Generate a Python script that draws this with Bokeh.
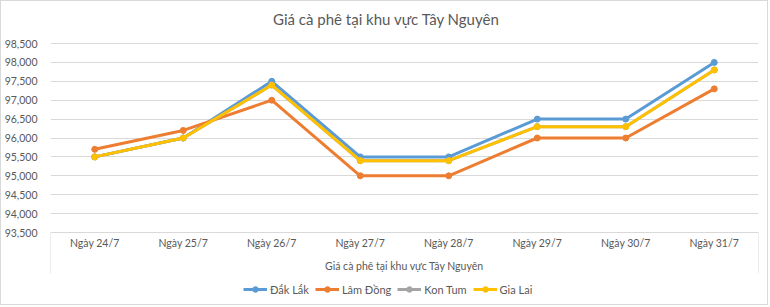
from bokeh.plotting import figure
from bokeh.models import (FactorRange, Range1d, FixedTicker, NumeralTickFormatter,
                          Legend, LegendItem, Label)
from bokeh.embed import file_html
from bokeh.resources import INLINE

categories = ["Ngày 24/7", "Ngày 25/7", "Ngày 26/7", "Ngày 27/7",
              "Ngày 28/7", "Ngày 29/7", "Ngày 30/7", "Ngày 31/7"]
dak_lak = [95500, 96000, 97500, 95500, 95500, 96500, 96500, 98000]
lam_dong = [95700, 96200, 97000, 95000, 95000, 96000, 96000, 97300]
kon_tum = [95500, 96000, 97400, 95400, 95400, 96300, 96300, 97800]
gia_lai = [95500, 96000, 97400, 95400, 95400, 96300, 96300, 97800]
y_ticks = [93500, 94000, 94500, 95000, 95500, 96000, 96500, 97000, 97500, 98000, 98500]

series = [("Đắk Lắk", dak_lak, "#5B9BD5"),
          ("Lâm Đồng", lam_dong, "#ED7D31"),
          ("Kon Tum", kon_tum, "#A5A5A5"),
          ("Gia Lai", gia_lai, "#FFC000")]

FONT = "Lato"
TXT = "#595959"

W, H = 768, 305
GRID_TOP = 42      # canvas px of the top gridline
GRID_H = 189       # px between top and bottom gridline
BOX_H = 41         # height of the category box below the bottom gridline
FRAME_BOTTOM = H

y_top = y_ticks[-1]
y_bot = y_ticks[0]
px_per_unit = GRID_H / (y_top - y_bot)
y_end = y_top + GRID_TOP / px_per_unit
y_start = y_bot - (FRAME_BOTTOM - GRID_TOP - GRID_H) / px_per_unit
y_box = y_bot - BOX_H / px_per_unit

p = figure(width=W, height=H, output_backend="svg", toolbar_location=None,
           x_range=FactorRange(*categories), y_range=Range1d(y_start, y_end),
           min_border_left=47, min_border_right=11, min_border_top=0,
           min_border_bottom=0, styles={"border": "1px solid #D9D9D9"})
p.outline_line_color = None
p.background_fill_color = "white"
p.border_fill_color = "white"

title = Label(text="Giá cà phê tại khu vực Tây Nguyên", x=336, y=FRAME_BOTTOM - 17,
              x_units="screen", y_units="screen", text_align="center",
              text_baseline="middle", text_font=FONT, text_font_size="15px",
              text_color=TXT)
p.add_layout(title)

p.yaxis.ticker = FixedTicker(ticks=y_ticks)
p.yaxis.formatter = NumeralTickFormatter(format="0,0")
p.yaxis.axis_line_color = None
p.yaxis.major_tick_line_color = None
p.yaxis.minor_tick_line_color = None
p.yaxis.major_label_standoff = 7
p.yaxis.major_label_text_font = FONT
p.yaxis.major_label_text_font_size = "10.5px"
p.yaxis.major_label_text_color = TXT

p.ygrid.ticker = FixedTicker(ticks=y_ticks)
p.ygrid.grid_line_color = "#D9D9D9"
p.ygrid.grid_line_width = 1
p.xgrid.grid_line_color = None

p.xaxis.axis_line_color = None
p.xaxis.major_tick_line_color = None
p.xaxis.major_tick_out = 0
p.xaxis.major_tick_in = 0
p.xaxis.major_label_standoff = -(FRAME_BOTTOM - 235)
p.xaxis.major_label_text_font = FONT
p.xaxis.major_label_text_font_size = "10.5px"
p.xaxis.major_label_text_color = TXT
p.xaxis.axis_label = "Giá cà phê tại khu vực Tây Nguyên"
p.xaxis.axis_label_standoff = 8
p.xaxis.axis_label_text_font = FONT
p.xaxis.axis_label_text_font_size = "10.5px"
p.xaxis.axis_label_text_font_style = "normal"
p.xaxis.axis_label_text_color = TXT

# category box side lines
n = len(categories)
p.segment(x0=[0, n], y0=[y_bot, y_bot], x1=[0, n], y1=[y_box, y_box],
          line_color="#D9D9D9", line_width=1)

items = []
for name, vals, color in series:
    r1 = p.line(categories, vals, line_color=color, line_width=3)
    r2 = p.scatter(categories, vals, size=6, fill_color=color, line_color=color)
    items.append(LegendItem(label=name, renderers=[r1, r2]))

legend = Legend(items=items, orientation="horizontal",
                location=(193, FRAME_BOTTOM - 295),
                border_line_color=None, background_fill_alpha=0,
                padding=0, margin=0, spacing=6, glyph_width=24, glyph_height=14,
                label_standoff=3, label_text_font=FONT, label_text_font_size="11px",
                label_text_color=TXT, label_height=14)
p.add_layout(legend, "center")

open("out.html", "w").write(file_html(p, INLINE))
